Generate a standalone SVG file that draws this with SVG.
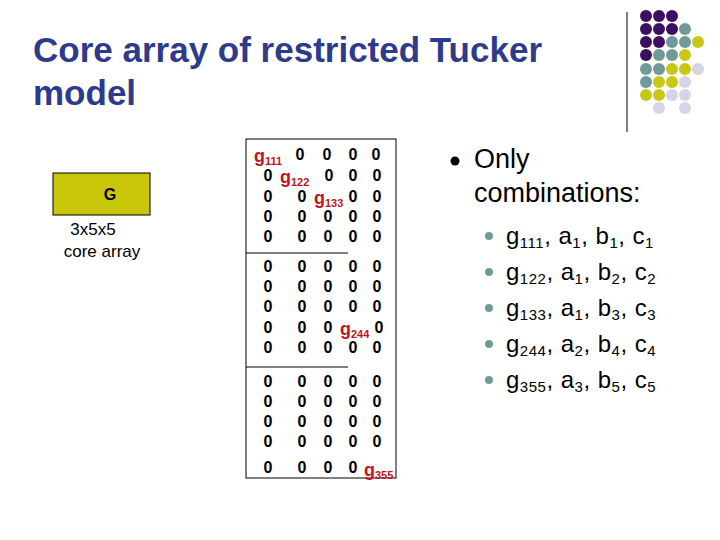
<svg xmlns="http://www.w3.org/2000/svg" width="720" height="540" viewBox="0 0 720 540">
<style>
text{font-family:"Liberation Sans",Arial,sans-serif}
.t{font-size:35px;font-weight:bold;fill:#2e3a8c}
.z{font-size:16px;font-weight:bold;fill:#000;text-anchor:middle}
.g{font-size:18px;font-weight:bold;fill:#c0151c}
.g tspan{font-size:11px}
.b{font-size:27px;fill:#000}
.s{font-size:24px;fill:#000;letter-spacing:0.5px}
.s .u{font-size:15px}
.P{fill:#3b1060}.T{fill:#6f9a98}.Y{fill:#c8c716}.L{fill:#d4d4e6}
</style>
<rect width="720" height="540" fill="#fff"/>
<g id="decor">
<line x1="627" y1="12" x2="627" y2="132" stroke="#000" stroke-width="1"/>
<g>
<circle class="P" cx="646" cy="16" r="6"/><circle class="P" cx="659" cy="16" r="6"/><circle class="P" cx="672" cy="16" r="6"/>
<circle class="P" cx="646" cy="29" r="6"/><circle class="P" cx="659" cy="29" r="6"/><circle class="P" cx="672" cy="29" r="6"/><circle class="T" cx="685" cy="29" r="6"/>
<circle class="P" cx="646" cy="42" r="6"/><circle class="P" cx="659" cy="42" r="6"/><circle class="T" cx="672" cy="42" r="6"/><circle class="T" cx="685" cy="42" r="6"/><circle class="Y" cx="698" cy="42" r="6"/>
<circle class="P" cx="646" cy="55" r="6"/><circle class="T" cx="659" cy="55" r="6"/><circle class="T" cx="672" cy="55" r="6"/><circle class="Y" cx="685" cy="55" r="6"/>
<circle class="T" cx="646" cy="69" r="6"/><circle class="T" cx="659" cy="69" r="6"/><circle class="Y" cx="672" cy="69" r="6"/><circle class="Y" cx="685" cy="69" r="6"/><circle class="L" cx="698" cy="69" r="6"/>
<circle class="T" cx="646" cy="82" r="6"/><circle class="Y" cx="659" cy="82" r="6"/><circle class="Y" cx="672" cy="82" r="6"/><circle class="L" cx="685" cy="82" r="6"/>
<circle class="Y" cx="646" cy="95" r="6"/><circle class="Y" cx="659" cy="95" r="6"/><circle class="L" cx="672" cy="95" r="6"/><circle class="L" cx="685" cy="95" r="6"/>
<circle class="L" cx="659" cy="108" r="6"/><circle class="L" cx="685" cy="108" r="6"/>
</g>
</g>
<g id="title">
<text class="t" x="33" y="62">Core array of restricted Tucker</text>
<text class="t" x="33" y="105">model</text>
</g>
<g id="G">
<rect x="53" y="173" width="97" height="42" fill="#c8c70a" stroke="#000" stroke-width="1"/>
<text x="110" y="200" font-size="16" font-weight="bold" text-anchor="middle">G</text>
<text x="93" y="235" font-size="17" text-anchor="middle">3x5x5</text>
<text x="102" y="257" font-size="17" text-anchor="middle">core array</text>
</g>
<g id="matrix">
<rect x="246" y="139" width="150" height="339" fill="none" stroke="#000" stroke-width="1"/>
<line x1="246" y1="253" x2="348" y2="253" stroke="#000"/>
<line x1="246" y1="367" x2="348" y2="367" stroke="#000"/>
<text class="g" x="254" y="162">g<tspan dy="3">111</tspan></text>
<text class="z" x="300" y="160">0</text><text class="z" x="327" y="160">0</text><text class="z" x="353" y="160">0</text><text class="z" x="376" y="160">0</text>
<text class="z" x="268" y="181">0</text>
<text class="g" x="280" y="183">g<tspan dy="3">122</tspan></text>
<text class="z" x="329" y="181">0</text><text class="z" x="353" y="181">0</text><text class="z" x="377" y="181">0</text>
<text class="z" x="268" y="202">0</text><text class="z" x="302" y="202">0</text>
<text class="g" x="314" y="204">g<tspan dy="3">133</tspan></text>
<text class="z" x="353" y="202">0</text><text class="z" x="377" y="202">0</text>
<g>
<text class="z" x="268" y="222">0</text><text class="z" x="302" y="222">0</text><text class="z" x="328" y="222">0</text><text class="z" x="353" y="222">0</text><text class="z" x="377" y="222">0</text>
<text class="z" x="268" y="242">0</text><text class="z" x="302" y="242">0</text><text class="z" x="328" y="242">0</text><text class="z" x="353" y="242">0</text><text class="z" x="377" y="242">0</text>
<text class="z" x="268" y="272">0</text><text class="z" x="302" y="272">0</text><text class="z" x="328" y="272">0</text><text class="z" x="353" y="272">0</text><text class="z" x="377" y="272">0</text>
<text class="z" x="268" y="292">0</text><text class="z" x="302" y="292">0</text><text class="z" x="328" y="292">0</text><text class="z" x="353" y="292">0</text><text class="z" x="377" y="292">0</text>
<text class="z" x="268" y="312">0</text><text class="z" x="302" y="312">0</text><text class="z" x="328" y="312">0</text><text class="z" x="353" y="312">0</text><text class="z" x="377" y="312">0</text>
<text class="z" x="268" y="333">0</text><text class="z" x="302" y="333">0</text><text class="z" x="328" y="333">0</text>
<text class="g" x="340" y="335">g<tspan dy="3">244</tspan></text>
<text class="z" x="379" y="333">0</text>
<text class="z" x="268" y="353">0</text><text class="z" x="302" y="353">0</text><text class="z" x="328" y="353">0</text><text class="z" x="353" y="353">0</text><text class="z" x="377" y="353">0</text>
<text class="z" x="268" y="387">0</text><text class="z" x="302" y="387">0</text><text class="z" x="328" y="387">0</text><text class="z" x="353" y="387">0</text><text class="z" x="377" y="387">0</text>
<text class="z" x="268" y="407">0</text><text class="z" x="302" y="407">0</text><text class="z" x="328" y="407">0</text><text class="z" x="353" y="407">0</text><text class="z" x="377" y="407">0</text>
<text class="z" x="268" y="427">0</text><text class="z" x="302" y="427">0</text><text class="z" x="328" y="427">0</text><text class="z" x="353" y="427">0</text><text class="z" x="377" y="427">0</text>
<text class="z" x="268" y="447">0</text><text class="z" x="302" y="447">0</text><text class="z" x="328" y="447">0</text><text class="z" x="353" y="447">0</text><text class="z" x="377" y="447">0</text>
<text class="z" x="268" y="473">0</text><text class="z" x="302" y="473">0</text><text class="z" x="328" y="473">0</text><text class="z" x="353" y="473">0</text>
</g>
<text class="g" x="364" y="476">g<tspan dy="3">355</tspan></text>
</g>
<g id="bullets">
<circle cx="455" cy="161" r="4.5" fill="#000"/>
<text class="b" x="474" y="168">Only</text>
<text class="b" x="474" y="202">combinations:</text>
<g fill="#6f9a98">
<circle cx="489" cy="236" r="4"/><circle cx="489" cy="272" r="4"/><circle cx="489" cy="308" r="4"/><circle cx="489" cy="344" r="4"/><circle cx="489" cy="380" r="4"/>
</g>
<text class="s" x="506" y="244">g<tspan class="u" dy="4">111</tspan><tspan dy="-4">, a</tspan><tspan class="u" dy="4">1</tspan><tspan dy="-4">, b</tspan><tspan class="u" dy="4">1</tspan><tspan dy="-4">, c</tspan><tspan class="u" dy="4">1</tspan></text>
<text class="s" x="506" y="280">g<tspan class="u" dy="4">122</tspan><tspan dy="-4">, a</tspan><tspan class="u" dy="4">1</tspan><tspan dy="-4">, b</tspan><tspan class="u" dy="4">2</tspan><tspan dy="-4">, c</tspan><tspan class="u" dy="4">2</tspan></text>
<text class="s" x="506" y="316">g<tspan class="u" dy="4">133</tspan><tspan dy="-4">, a</tspan><tspan class="u" dy="4">1</tspan><tspan dy="-4">, b</tspan><tspan class="u" dy="4">3</tspan><tspan dy="-4">, c</tspan><tspan class="u" dy="4">3</tspan></text>
<text class="s" x="506" y="352">g<tspan class="u" dy="4">244</tspan><tspan dy="-4">, a</tspan><tspan class="u" dy="4">2</tspan><tspan dy="-4">, b</tspan><tspan class="u" dy="4">4</tspan><tspan dy="-4">, c</tspan><tspan class="u" dy="4">4</tspan></text>
<text class="s" x="506" y="388">g<tspan class="u" dy="4">355</tspan><tspan dy="-4">, a</tspan><tspan class="u" dy="4">3</tspan><tspan dy="-4">, b</tspan><tspan class="u" dy="4">5</tspan><tspan dy="-4">, c</tspan><tspan class="u" dy="4">5</tspan></text>
</g>
</svg>
